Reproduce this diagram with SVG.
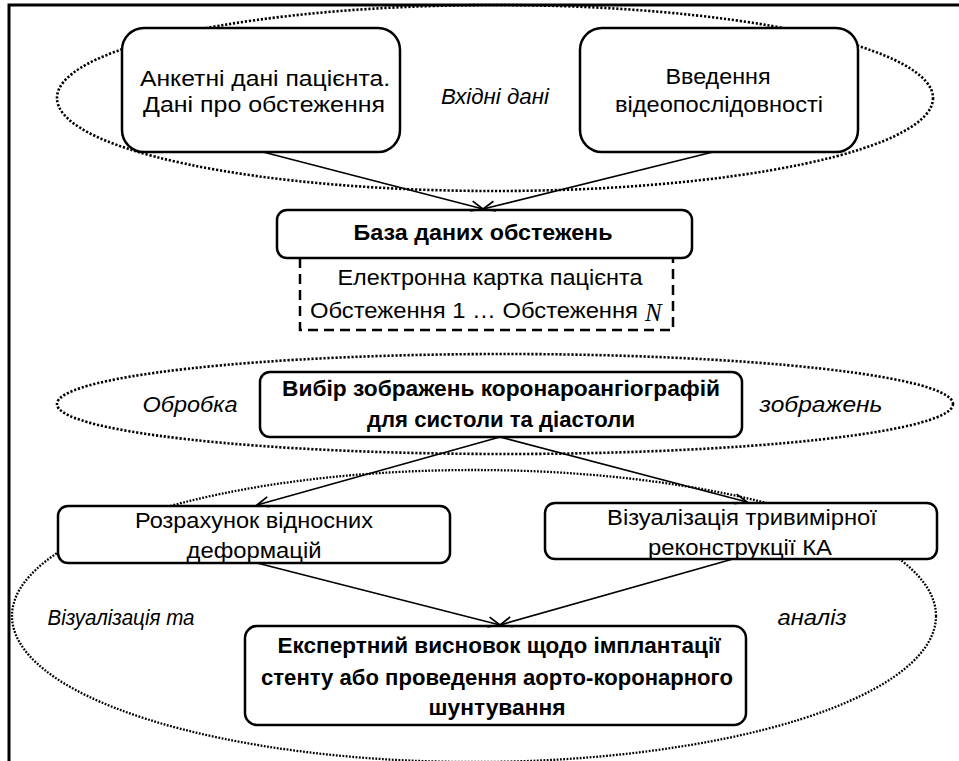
<svg xmlns="http://www.w3.org/2000/svg" width="959" height="761" viewBox="0 0 959 761">
<style>
  .frame { fill: none; stroke: #000; stroke-width: 3; }
  .region { fill: none; stroke: #000; stroke-width: 2.6; stroke-dasharray: 2.2 1.8; }
  .region3 { fill: none; stroke: #000; stroke-width: 2.3; stroke-dasharray: 1.8 1.5; }
  .box { fill: #fff; stroke: #000; stroke-width: 2.5; }
  .dash { fill: none; stroke: #000; stroke-width: 2.5; stroke-dasharray: 10 6; }
  .t { font-family: "Liberation Sans", Arial, sans-serif; font-size: 22px; fill: #000; text-anchor: middle; }
  .b { font-weight: bold; }
  .i { font-style: italic; }
  .conn { stroke: #000; stroke-width: 1.7; fill: none; marker-end: url(#arr); }
</style>
<defs>
  <marker id="arr" markerUnits="userSpaceOnUse" markerWidth="14" markerHeight="12" refX="12" refY="5" orient="auto" overflow="visible">
    <path d="M0,0 L12,5 L0,10" fill="none" stroke="#000" stroke-width="1.7"/>
  </marker>
</defs>
<rect width="959" height="761" fill="#fff"/>
<path class="frame" d="M9,761 V5 H959"/>

<g id="region-input">
  <ellipse class="region" cx="495" cy="98" rx="438" ry="93"/>
  <text class="t i" x="495" y="104" textLength="108" lengthAdjust="spacingAndGlyphs">Вхідні дані</text>
</g>
<g id="region-processing">
  <ellipse class="region" cx="505" cy="404" rx="448" ry="50"/>
  <text class="t i" x="190" y="412" textLength="95" lengthAdjust="spacingAndGlyphs">Обробка</text>
  <text class="t i" x="821" y="412" textLength="123" lengthAdjust="spacingAndGlyphs">зображень</text>
</g>
<g id="region-analysis">
  <ellipse class="region3" cx="474" cy="616" rx="462" ry="146"/>
  <text class="t i" x="121" y="625" textLength="147" lengthAdjust="spacingAndGlyphs">Візуалізація та</text>
  <text class="t i" x="812" y="625" textLength="69" lengthAdjust="spacingAndGlyphs">аналіз</text>
</g>

<g id="node-patient-data">
  <rect class="box" x="122" y="28" width="278" height="124" rx="22"/>
  <text class="t" x="265" y="86" textLength="250" lengthAdjust="spacingAndGlyphs">Анкетні дані пацієнта.</text>
  <text class="t" x="264" y="112" textLength="242" lengthAdjust="spacingAndGlyphs">Дані про обстеження</text>
</g>
<g id="node-video">
  <rect class="box" x="580" y="28" width="278" height="124" rx="22"/>
  <text class="t" x="718" y="84" textLength="105" lengthAdjust="spacingAndGlyphs">Введення</text>
  <text class="t" x="719" y="112" textLength="208" lengthAdjust="spacingAndGlyphs">відеопослідовності</text>
</g>
<g id="node-database">
  <path class="dash" d="M300,258 V330 H673 V258"/>
  <rect class="box" x="277" y="210" width="415" height="48" rx="10"/>
  <text class="t b" x="483" y="240" textLength="259" lengthAdjust="spacingAndGlyphs">База даних обстежень</text>
  <text class="t" x="490" y="285" textLength="305" lengthAdjust="spacingAndGlyphs">Електронна картка пацієнта</text>
  <text class="t" x="474" y="318" textLength="328" lengthAdjust="spacingAndGlyphs">Обстеження 1 … Обстеження</text>
  <text x="645" y="321" font-family="Liberation Serif, Times New Roman, serif" font-style="italic" font-size="25">N</text>
</g>
<g id="node-select">
  <rect class="box" x="260" y="372" width="482" height="65" rx="10"/>
  <text class="t b" x="501" y="396" textLength="438" lengthAdjust="spacingAndGlyphs">Вибір зображень коронароангіографій</text>
  <text class="t b" x="501" y="427" textLength="268" lengthAdjust="spacingAndGlyphs">для систоли та діастоли</text>
</g>
<g id="node-deformation">
  <rect class="box" x="58" y="506" width="392" height="57" rx="10"/>
  <text class="t" x="254" y="528" textLength="238" lengthAdjust="spacingAndGlyphs">Розрахунок відносних</text>
  <text class="t" x="254" y="558" textLength="135" lengthAdjust="spacingAndGlyphs">деформацій</text>
</g>
<g id="node-reconstruction">
  <rect class="box" x="545" y="503" width="392" height="56" rx="10"/>
  <text class="t" x="742" y="525" textLength="270" lengthAdjust="spacingAndGlyphs">Візуалізація тривимірної</text>
  <text class="t" x="740" y="555" textLength="184" lengthAdjust="spacingAndGlyphs">реконструкції КА</text>
</g>
<g id="node-conclusion">
  <rect class="box" x="245" y="626" width="501" height="99" rx="12"/>
  <text class="t b" x="499" y="653" textLength="443" lengthAdjust="spacingAndGlyphs">Експертний висновок щодо імплантації</text>
  <text class="t b" x="497" y="685" textLength="472" lengthAdjust="spacingAndGlyphs">стенту або проведення аорто-коронарного</text>
  <text class="t b" x="497" y="715" textLength="137" lengthAdjust="spacingAndGlyphs">шунтування</text>
</g>

<g id="connectors">
  <line class="conn" x1="263" y1="152" x2="483" y2="209"/>
  <line class="conn" x1="713" y1="152" x2="483" y2="209"/>
  <line class="conn" x1="500" y1="437" x2="257" y2="505"/>
  <line class="conn" x1="500" y1="437" x2="747" y2="502"/>
  <line class="conn" x1="257" y1="563" x2="500" y2="625"/>
  <line class="conn" x1="733" y1="559" x2="500" y2="625"/>
</g>
</svg>
